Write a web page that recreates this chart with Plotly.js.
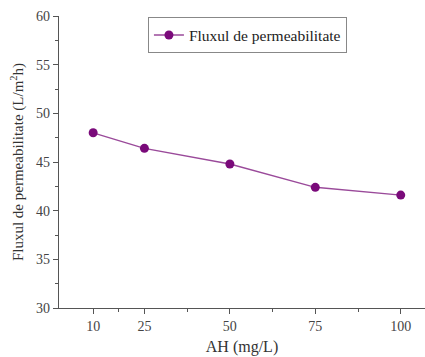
<!DOCTYPE html>
<html>
<head>
<meta charset="utf-8">
<script src="https://cdn.plot.ly/plotly-3.0.1.min.js"></script>
<style>
  html, body { margin: 0; padding: 0; background: #fff; }
  #chart { width: 425px; height: 357px; }
</style>
</head>
<body>
<div id="chart"></div>
<script>
// Permeate flux vs. humic acid concentration
const ahConc = [10, 25, 50, 75, 100];
const fluxValues = [48.0, 46.4, 44.8, 42.4, 41.6];
const xTickVals = [10, 25, 50, 75, 100];
const xTickText = ['10', '25', '50', '75', '100'];
const seriesName = 'Fluxul de permeabilitate';

const serif = 'Liberation Serif, Times New Roman, serif';

const trace = {
  x: ahConc,
  y: fluxValues,
  name: seriesName,
  type: 'scatter',
  mode: 'lines+markers',
  line: { color: '#9a4a9a', width: 1.4 },
  marker: { color: '#7a0a7a', size: 9 },
  showlegend: true
};

const layout = {
  width: 425,
  height: 357,
  margin: { l: 59, r: 0, t: 16, b: 49 },
  paper_bgcolor: '#fff',
  plot_bgcolor: '#fff',
  font: { family: serif, color: '#333', size: 13 },
  showlegend: true,
  legend: {
    x: 0.243, y: 0.995, xanchor: 'left', yanchor: 'top',
    bordercolor: '#888', borderwidth: 1, bgcolor: '#fff',
    font: { family: serif, size: 15.5, color: '#222' },
    itemwidth: 30,
    tracegroupgap: 0
  },
  xaxis: {
    range: [0, 107.1],
    tickmode: 'array',
    tickvals: xTickVals,
    ticktext: xTickText,
    ticks: 'outside', ticklen: 5, tickwidth: 1, tickcolor: '#555',
    minor: { tickmode: 'array', tickvals: [17.5, 37.5, 62.5, 87.5], ticks: 'outside', ticklen: 3, tickcolor: '#555' },
    showline: true, linecolor: '#555', linewidth: 1.2,
    showgrid: false, zeroline: false,
    tickfont: { family: serif, size: 14, color: '#444' },
    title: { text: 'AH (mg/L)', font: { family: serif, size: 16, color: '#333' }, standoff: 7 }
  },
  yaxis: {
    range: [30, 60],
    dtick: 5, tick0: 30,
    ticks: 'outside', ticklen: 5, tickwidth: 1, tickcolor: '#555',
    minor: { dtick: 2.5, ticks: 'outside', ticklen: 3, tickcolor: '#555' },
    showline: true, linecolor: '#555', linewidth: 1.2,
    showgrid: false, zeroline: false,
    tickfont: { family: serif, size: 14, color: '#444' },
    title: { text: 'Fluxul de permeabilitate (L/m<sup>2</sup>h)', font: { family: serif, size: 15, color: '#333' }, standoff: 8 }
  }
};

Plotly.newPlot('chart', [trace], layout, { displayModeBar: false, staticPlot: true });
</script>
</body>
</html>
